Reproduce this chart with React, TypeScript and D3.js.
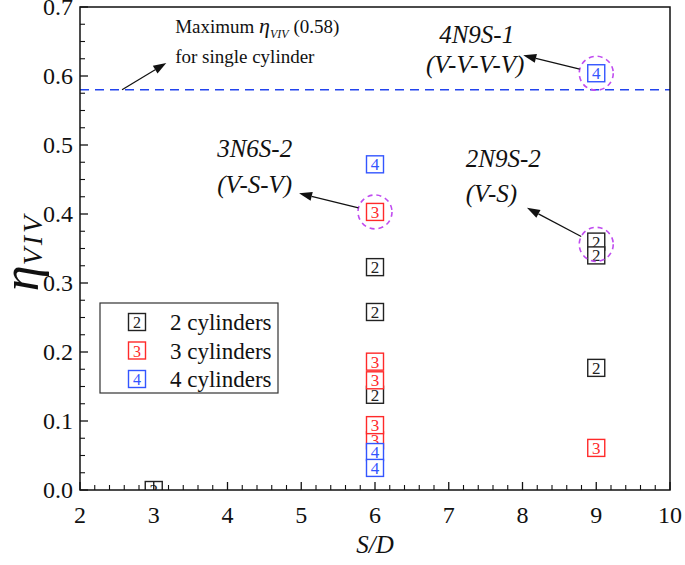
import React from "react";
import * as d3 from "d3";

const xTicks = [2, 3, 4, 5, 6, 7, 8, 9, 10];
const yTicks = [0, 0.1, 0.2, 0.3, 0.4, 0.5, 0.6, 0.7];

const cyl2X = [3, 6, 6, 6, 9, 9, 9];
const cyl2Y = [0.0, 0.323, 0.258, 0.138, 0.36, 0.34, 0.177];
const cyl3X = [6, 6, 6, 6, 6, 9];
const cyl3Y = [0.403, 0.186, 0.159, 0.072, 0.094, 0.061];
const cyl4X = [6, 6, 6, 9];
const cyl4Y = [0.472, 0.055, 0.032, 0.604];

const singleMax = 0.58;

const seriesNames = ["2 cylinders", "3 cylinders", "4 cylinders"];
const seriesSymbols = ["2", "3", "4"];
const seriesColors = ["#222222", "#ff2a2a", "#3355ff"];

// highlighted cases
const circleX = [6, 9, 9];
const circleY = [0.403, 0.604, 0.356];

const annoLine1 = ["3N6S-2", "4N9S-1", "2N9S-2"];
const annoLine2 = ["(V-S-V)", "(V-V-V-V)", "(V-S)"];
const annoX = [3.86, 6.87, 7.23];
const annoX2 = [3.86, 6.69, 7.23];
const annoY1 = [0.483, 0.648, 0.468];
const annoY2 = [0.43, 0.604, 0.417];
const arrowTipX = [4.97, 8.01, 8.06];
const arrowTipY = [0.43, 0.63, 0.409];

const serif = "Liberation Serif";

export default function App() {
  const W = 685;
  const H = 565;
  const left = 80, right = 670, top = 7, bottom = 490;
  const x = d3.scaleLinear().domain([2, 10]).range([left, right]);
  const y = d3.scaleLinear().domain([0, 0.7]).range([bottom, top]);

  const xMinor = d3.range(2, 10.001, 0.2).filter((v) => Math.abs(v - Math.round(v)) > 1e-6);
  const yMinor = d3.range(0, 0.7001, 0.025).filter((v) => Math.abs(v * 10 - Math.round(v * 10)) > 1e-6);

  const series = [
    { xs: cyl2X, ys: cyl2Y },
    { xs: cyl3X, ys: cyl3Y },
    { xs: cyl4X, ys: cyl4Y },
  ];
  const box = 17;
  const R = 17;

  const marker = (cx: number, cy: number, i: number, key: string, fs = 17) => (
    <g key={key}>
      <rect x={cx - box / 2} y={cy - box / 2} width={box} height={box} fill="white" stroke={seriesColors[i]} strokeWidth={1.4} />
      <text x={cx} y={cy + 6} textAnchor="middle" fontFamily={serif} fontSize={fs} fill={seriesColors[i]}>
        {seriesSymbols[i]}
      </text>
    </g>
  );

  const arrow = (x1: number, y1: number, x2: number, y2: number, key: string) => {
    const dx = x2 - x1, dy = y2 - y1;
    const len = Math.hypot(dx, dy);
    const ux = dx / len, uy = dy / len;
    const hl = 13, hw = 4.5;
    const bx = x2 - ux * hl, by = y2 - uy * hl;
    const pts = `${x2},${y2} ${bx - uy * hw},${by + ux * hw} ${bx + uy * hw},${by - ux * hw}`;
    return (
      <g key={key}>
        <line x1={x1} y1={y1} x2={bx} y2={by} stroke="#111" strokeWidth={1.2} />
        <polygon points={pts} fill="#111" />
      </g>
    );
  };

  return (
    <svg width={W} height={H} style={{ position: "absolute", left: 0, top: 0, background: "white" }}>
      <defs>
        <clipPath id="plotclip">
          <rect x={left} y={top} width={right - left} height={bottom - top} />
        </clipPath>
      </defs>

      {/* single-cylinder max line */}
      <line x1={left} x2={right} y1={y(singleMax)} y2={y(singleMax)} stroke="#2244ee" strokeWidth={1.6} strokeDasharray="9,6" />

      {/* markers */}
      <g clipPath="url(#plotclip)">
        {series.map((s, i) => s.xs.map((xv, j) => marker(x(xv), y(s.ys[j]), i, `m${i}-${j}`)))}
      </g>

      {/* highlight circles */}
      {circleX.map((cx, i) => (
        <circle key={`c${i}`} cx={x(cx)} cy={y(circleY[i])} r={R} fill="none" stroke="#c04cf0" strokeWidth={1.6} strokeDasharray="5,4" />
      ))}

      {/* case arrows */}
      {circleX.map((cx, i) => {
        const px = x(cx), py = y(circleY[i]);
        const tx = x(arrowTipX[i]), ty = y(arrowTipY[i]);
        const d = Math.hypot(tx - px, ty - py);
        const sx = px + ((tx - px) / d) * R;
        const sy = py + ((ty - py) / d) * R;
        return arrow(sx, sy, tx, ty, `a${i}`);
      })}

      {/* case labels */}
      {annoLine1.map((t, i) => (
        <g key={`t${i}`} fontFamily={serif} fontStyle="italic" fontSize={25} fill="#111">
          <text x={x(annoX[i])} y={y(annoY1[i])}>{t}</text>
          <text x={x(annoX2[i])} y={y(annoY2[i])}>{annoLine2[i]}</text>
        </g>
      ))}

      {/* maximum annotation */}
      {arrow(x(2.57), y(singleMax), x(3.17), y(0.619), "amax")}
      <text x={x(3.29)} y={y(0.662)} fontFamily={serif} fontSize={19} fill="#111">
        Maximum{" "}
        <tspan fontStyle="italic" fontSize={22}>η</tspan>
        <tspan fontStyle="italic" fontSize={12} dy={5}>VIV</tspan>
        <tspan dy={-5}> (0.58)</tspan>
      </text>
      <text x={x(3.29)} y={y(0.619)} fontFamily={serif} fontSize={19} fill="#111">
        for single cylinder
      </text>

      {/* frame */}
      <rect x={left} y={top} width={right - left} height={bottom - top} fill="none" stroke="#111" strokeWidth={1.5} />

      {/* ticks */}
      {xTicks.map((t) => (
        <g key={`xt${t}`}>
          <line x1={x(t)} x2={x(t)} y1={bottom} y2={bottom - 8} stroke="#111" strokeWidth={1.3} />
          <text x={x(t)} y={523} textAnchor="middle" fontFamily={serif} fontSize={24} fill="#111">{t}</text>
        </g>
      ))}
      {xMinor.map((t, i) => (
        <line key={`xm${i}`} x1={x(t)} x2={x(t)} y1={bottom} y2={bottom - 5} stroke="#111" strokeWidth={1.1} />
      ))}
      {yTicks.map((t) => (
        <g key={`yt${t}`}>
          <line x1={left} x2={left + 8} y1={y(t)} y2={y(t)} stroke="#111" strokeWidth={1.3} />
          <text x={73} y={y(t) + 8} textAnchor="end" fontFamily={serif} fontSize={24} fill="#111">{t.toFixed(1)}</text>
        </g>
      ))}
      {yMinor.map((t, i) => (
        <line key={`ym${i}`} x1={left} x2={left + 5} y1={y(t)} y2={y(t)} stroke="#111" strokeWidth={1.1} />
      ))}

      {/* axis titles */}
      <text x={(left + right) / 2} y={553} textAnchor="middle" fontFamily={serif} fontStyle="italic" fontSize={25} fill="#111">
        S/D
      </text>
      <text transform={`translate(38, 252) rotate(-90)`} textAnchor="middle" fontFamily={serif} fontStyle="italic" fill="#111">
        <tspan fontSize={52}>η</tspan>
        <tspan fontSize={28} dy={4} letterSpacing={3}>VIV</tspan>
      </text>

      {/* legend */}
      <rect x={100} y={303} width={178} height={90} fill="white" stroke="#333" strokeWidth={1.2} />
      {seriesNames.map((n, i) => (
        <g key={`lg${i}`}>
          {marker(137, 322 + i * 28.5, i, `lm${i}`, 16)}
          <text x={170} y={322 + i * 28.5 + 8} fontFamily={serif} fontSize={23} fill="#111">{n}</text>
        </g>
      ))}
    </svg>
  );
}
